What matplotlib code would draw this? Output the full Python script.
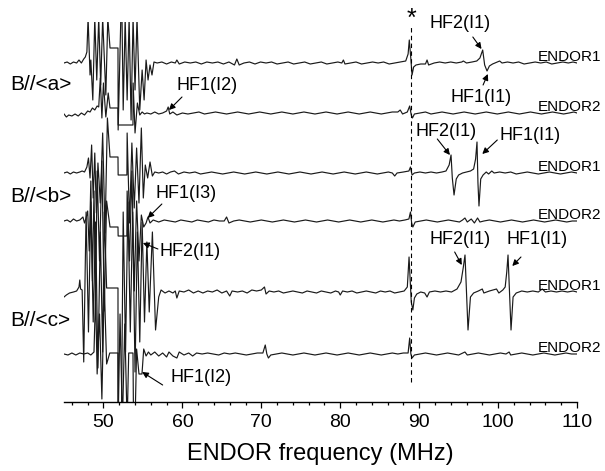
import numpy as np
from matplotlib import pyplot as plt

plt.rcParams['font.family'] = ['Liberation Sans', 'DejaVu Sans']

# ENDOR spectra, (frequency MHz, intensity a.u.)
a_endor1 = [(45.0,0),(45.4,1),(45.8,-1),(46.2,1),(46.6,0),(46.9,3),(47.2,0),(47.5,4),
    (47.7,6),(47.9,11),(48.05,45),(48.3,-12),(48.4,3),(48.65,-37),(48.9,45),(49.15,-17),(49.4,45),
    (49.65,-22),(49.9,45),(50.3,-32),(50.55,45),(50.83,15),(51.84,15),(51.86,-67),(52.2,45),(52.35,45),
    (52.5,-47),(52.75,45),(53.0,-37),(53.25,45),(53.5,-57),(53.75,45),(54.0,-27),(54.25,45),(54.6,-47),
    (54.9,-7),(55.15,-37),(55.4,3),(55.65,-17),(55.9,-2),(56.15,-12),(56.4,1),(56.8,0),
    (57.4,1),(58.0,-1),(58.6,1),(59.1,0),(59.3,3),(59.6,-1),(60.3,1),(61.0,0),(61.7,1),(62.4,-1),
    (63.1,1),(63.8,0),(64.5,1),(65.2,-1),(65.9,1),(66.6,-2),(66.9,4),(67.2,-2),(67.8,0),(68.5,1),
    (69.2,-1),(69.9,1),(70.6,0),(71.3,1),(72.0,-1),(72.7,0),(73.4,1),(74.1,-1),(74.8,0),(75.5,1),
    (76.2,-1),(76.9,0),(77.6,1),(78.3,-1),(79.0,0),(79.7,1),(80.2,0),(80.4,3),(80.6,-1),(81.3,0),
    (82.0,1),(82.7,-1),(83.4,0),(84.1,1),(84.8,0),(85.5,1),(86.2,-1),(86.9,0),(87.6,1),(88.3,2),
    (88.6,9),(88.75,23),(88.95,4),(89.1,-12),(89.3,-4),(89.6,-2),(90.2,-1),(90.8,-1),(91.0,3),
    (91.2,-2),(91.9,0),(92.6,1),(93.3,0),(94.0,1),(94.7,0),(95.4,1),(95.6,2),(96.0,0),(96.7,1),
    (97.3,2),(97.7,5),(98.05,13),(98.3,-2),(98.6,-8),(98.9,-3),(99.3,-1),(99.9,1),(100.2,2),
    (100.5,0),(101.2,1),(101.9,0),(102.6,1),(103.3,-1),(104.0,0),(104.7,1),(105.4,0),(106.1,1),
    (106.8,-1),(107.5,0),(108.2,1),(108.9,0),(109.5,1),(110.0,0)]

a_endor2 = [(45.0,-1),(45.3,-4),(45.6,-2),(46.0,-3),(46.4,-1),(46.8,-3),(47.2,0),(47.6,-2),(48.0,2),
    (48.3,1),(48.6,5),(48.9,3),(49.2,7),(49.4,6),(49.6,35),(49.8,-5),(50.0,30),(50.3,-4),(50.6,20),
    (50.83,5),(51.84,5),(51.86,-12),(53.74,-12),(53.76,30),(54.0,-20),(54.3,10),(54.6,-2),(54.9,1),
    (55.2,-1),(55.5,0),(56.0,-1),(56.5,1),(57.0,-1),(57.5,0),(58.0,2),(58.2,6),(58.4,-1),(58.8,1),
    (59.3,-2),(60.0,0),(60.7,-1),(61.4,0),(62.1,1),(62.8,-1),(63.5,0),(64.2,1),(64.9,0),(65.6,-1),
    (66.3,0),(67.0,1),(67.7,0),(68.4,-1),(69.1,0),(69.8,1),(70.5,0),(71.2,-1),(71.9,0),(72.6,1),
    (73.3,0),(74.0,-1),(74.7,0),(75.4,1),(76.1,0),(76.8,-1),(77.5,0),(78.2,1),(78.9,0),(79.6,-1),
    (80.3,0),(81.0,1),(81.7,0),(82.4,-1),(83.1,0),(83.8,1),(84.5,0),(85.2,-1),(85.9,0),(86.6,1),
    (87.3,1),(87.6,3),(87.9,-1),(88.5,1),(88.8,7),(89.0,-2),(89.15,-5),(89.4,-1),(90.1,0),(90.8,1),
    (91.5,-1),(92.2,0),(92.9,1),(93.6,0),(94.3,-1),(95.0,0),(95.7,1),(96.4,0),(97.1,-1),(97.8,0),
    (98.5,1),(99.2,0),(99.9,-1),(100.6,0),(101.3,1),(102.0,0),(102.7,-1),(103.4,0),(104.1,1),
    (104.8,0),(105.5,-1),(106.2,0),(106.9,1),(107.6,0),(108.3,-1),(109.0,0),(109.6,1),(110.0,0)]

b_endor1 = [(45.0,0),(45.4,1),(45.8,-1),(46.2,1),(46.6,0),(47.0,1),(47.3,2),(47.6,1),(47.9,6),
    (48.1,15),(48.3,-5),(48.5,28),(48.7,-25),(48.9,20),(49.1,-40),(49.3,10),(49.6,-30),(49.9,40),
    (50.2,-60),(50.5,55),(50.83,16),(51.84,16),(51.86,-2),(52.97,-2),(53.0,40),(53.3,-50),(53.6,30),
    (53.9,-35),(54.2,25),(54.5,-30),(54.8,45),(55.05,-25),(55.3,8),(55.6,-5),(55.9,11),(56.2,-3),
    (56.5,1),(57.0,0),(57.5,1),(58.0,-1),(58.5,1),(59.0,2),(59.5,-1),(60.2,1),(60.9,0),(61.6,1),
    (62.3,-1),(63.0,0),(63.7,1),(64.4,0),(65.1,-1),(65.8,0),(66.5,1),(67.2,0),(67.9,-1),(68.6,0),
    (69.3,1),(70.0,0),(70.7,-1),(71.4,0),(72.1,1),(72.8,0),(73.5,-1),(74.2,0),(74.9,1),(75.6,0),
    (76.3,-1),(77.0,0),(77.7,1),(78.4,0),(79.1,-1),(79.8,0),(80.5,1),(81.2,0),(81.9,-1),(82.6,0),
    (83.3,1),(84.0,0),(84.7,-1),(85.4,0),(86.1,1),(86.6,0),(86.9,-3),(87.2,0),(88.0,1),(88.7,2),
    (88.9,6),(89.1,-2),(89.4,0),(90.1,1),(90.8,0),(91.5,1),(92.2,0),(92.9,1),(93.4,2),(93.8,8),
    (94.04,18),(94.2,-5),(94.42,-22),(94.7,-6),(95.0,-2),(95.5,0),(96.0,1),(96.5,2),(96.9,4),
    (97.15,14),(97.33,31),(97.45,-10),(97.58,-33),(97.8,-6),(98.1,-2),(98.5,1),(98.8,-1),(99.2,2),
    (99.5,0),(100.2,1),(100.9,0),(101.6,1),(102.3,-1),(103.0,0),(103.7,1),(104.4,0),(105.1,-1),
    (105.8,0),(106.5,1),(107.2,0),(107.9,-1),(108.6,0),(109.3,1),(110.0,0)]

b_endor2 = [(45.0,0),(45.4,1),(45.8,-1),(46.2,2),(46.6,0),(47.0,1),(47.4,4),(47.6,-2),(47.8,3),
    (48.0,10),(48.2,-30),(48.4,40),(48.6,-60),(48.8,30),(49.0,-80),(49.2,50),(49.5,-40),(49.8,60),
    (50.1,-90),(50.4,20),(50.83,-6),(51.84,-6),(51.86,-15),(52.97,-15),(53.0,30),(53.3,-40),
    (53.6,50),(53.9,-70),(54.2,20),(54.5,-40),(54.8,6),(55.1,-6),(55.4,-2),(55.64,4),(55.9,-2),
    (56.3,1),(57.0,-1),(57.7,1),(58.4,0),(59.1,-1),(59.8,1),(60.5,0),(61.2,-1),(61.9,1),(62.6,0),
    (63.3,-1),(64.0,1),(64.7,0),(65.3,0),(65.6,4),(65.9,-2),(66.5,0),(67.2,1),(67.9,0),(68.6,-1),
    (69.3,0),(70.0,1),(70.7,0),(71.4,-1),(72.1,0),(72.8,1),(73.5,0),(74.2,-1),(74.9,0),(75.6,1),
    (76.3,0),(77.0,-1),(77.7,0),(78.4,1),(79.1,0),(79.8,-1),(80.5,0),(81.2,1),(81.9,0),(82.6,-1),
    (83.3,0),(84.0,1),(84.7,0),(85.4,-1),(86.1,0),(86.8,1),(87.5,0),(88.2,1),(88.7,2),(88.9,9),
    (89.05,-2),(89.2,-6),(89.5,-1),(90.2,0),(90.9,1),(91.6,0),(92.3,-1),(93.0,0),(93.7,1),(94.4,0),
    (95.1,-1),(95.5,1),(95.8,3),(96.1,-1),(96.6,2),(97.0,-2),(97.4,3),(97.7,-1),(98.2,0),(98.9,1),
    (99.6,0),(100.3,-1),(101.0,0),(101.7,1),(102.4,0),(103.1,-1),(103.8,0),(104.5,1),(105.2,0),
    (105.9,-1),(106.6,0),(107.3,1),(108.0,0),(108.7,-1),(109.4,0),(110.0,0)]

c_endor1 = [(45.0,-5),(45.3,-3),(45.7,-1),(46.2,0),(46.6,1),(46.9,5),(47.0,12),(47.1,3),(47.3,2),
    (47.5,-70),(47.8,80),(48.1,-40),(48.4,90),(48.7,-30),(49.0,70),(49.3,-76),(49.6,60),(49.9,-60),
    (50.1,80),(50.4,4),(51.84,4),(51.86,-200),(52.3,-110),(52.5,80),(52.8,-60),(53.1,90),(53.4,-40),
    (53.7,80),(54.0,-80),(54.3,60),(54.6,-50),(54.9,70),(55.2,-30),(55.5,50),(55.8,-20),(56.2,60),
    (56.6,-38),(57.0,-5),(57.3,2),(57.8,-1),(58.3,1),(58.8,-1),(59.1,1),(59.3,-6),(59.6,1),(60.2,0),
    (60.8,2),(61.4,-1),(62.0,1),(62.6,-1),(63.2,1),(63.8,0),(64.4,2),(65.0,-1),(65.6,1),(66.0,-4),
    (66.3,1),(67.0,0),(67.6,1),(68.2,-1),(68.8,2),(69.4,1),(70.0,2),(70.4,5),(70.6,-2),(71.0,1),
    (71.6,0),(72.2,1),(72.8,-1),(73.4,0),(74.0,1),(74.6,0),(75.2,-1),(75.8,1),(76.4,0),(77.0,-1),
    (77.6,1),(78.2,0),(78.8,-1),(79.4,1),(79.8,0),(80.0,-3),(80.3,1),(80.9,0),(81.5,1),(82.1,-1),
    (82.7,0),(83.3,1),(83.9,0),(84.5,-1),(85.1,1),(85.7,0),(86.3,1),(86.9,-1),(87.5,0),(88.1,1),
    (88.5,5),(88.72,35),(88.9,5),(89.0,-10),(89.2,-18),(89.4,-6),(89.7,-2),(90.2,0),(90.7,-1),
    (91.0,-5),(91.3,0),(92.0,1),(92.7,0),(93.4,1),(94.1,0),(94.8,3),(95.3,10),(95.6,25),(95.81,37),
    (96.0,0),(96.19,-38),(96.5,-5),(96.9,-1),(97.5,1),(98.0,3),(98.2,-1),(98.9,1),(99.8,3),
    (100.1,-1),(100.6,2),(100.9,5),(101.1,20),(101.26,37),(101.45,0),(101.64,-38),(101.9,-5),
    (102.3,-1),(103.0,1),(103.7,0),(104.4,1),(105.1,0),(105.6,3),(106.0,0),(106.7,1),(107.4,0),
    (108.1,1),(108.8,0),(109.5,1),(110.0,0)]

c_endor2 = [(45.0,0),(45.5,-1),(46.0,1),(46.5,-1),(47.0,1),(47.5,0),(48.0,1),(48.4,-1),(48.8,2),
    (49.0,60),(49.2,-20),(49.5,40),(49.8,-45),(50.1,70),(50.4,-10),(50.8,1),(51.84,1),(51.86,-70),
    (52.1,40),(52.4,-70),(52.7,30),(53.0,-70),(53.2,1),(53.74,1),(53.8,-60),(54.0,-70),(54.2,5),
    (54.5,-20),(54.88,-20),(55.1,5),(55.4,-2),(55.7,2),(56.0,-1),(56.5,2),(57.0,-2),(57.5,1),
    (58.0,-3),(58.3,2),(58.8,-2),(59.3,-4),(59.6,2),(60.2,-1),(60.8,1),(61.3,-2),(61.8,1),(62.5,0),
    (63.2,1),(63.9,0),(64.6,-1),(65.3,1),(66.0,0),(66.7,1),(67.4,0),(68.1,-1),(68.8,0),(69.5,1),
    (70.2,1),(70.5,9),(70.7,0),(70.9,-4),(71.2,-1),(71.9,0),(72.6,1),(73.3,0),(74.0,-1),(74.7,0),
    (75.4,1),(76.1,0),(76.8,-1),(77.5,0),(78.2,1),(78.9,0),(79.6,-1),(80.3,0),(81.0,1),(81.7,0),
    (82.4,-1),(83.1,0),(83.8,1),(84.5,0),(85.2,-1),(85.9,0),(86.6,1),(87.3,0),(88.0,1),(88.6,1),
    (88.8,16),(88.95,0),(89.1,-4),(89.4,-1),(90.1,0),(90.8,1),(91.5,0),(92.2,-1),(92.9,0),(93.6,1),
    (94.3,0),(95.0,-1),(95.8,2),(96.1,-1),(96.8,0),(97.5,1),(98.2,0),(98.9,-1),(99.6,0),(100.3,1),
    (101.0,0),(101.4,2),(101.6,-1),(102.3,0),(103.0,1),(103.7,0),(104.4,-1),(105.1,0),(105.8,1),
    (106.5,0),(107.2,-1),(107.9,0),(108.6,1),(109.3,0),(110.0,0)]

spectra = [a_endor1, a_endor2, b_endor1, b_endor2, c_endor1, c_endor2]
spectrum_names = ['ENDOR1', 'ENDOR2', 'ENDOR1', 'ENDOR2', 'ENDOR1', 'ENDOR2']
offsets = [339, 289, 229, 181, 110, 48]
orientations = ['B//<a>', 'B//<b>', 'B//<c>']
orientation_y = [317, 205, 82]

# (label, text position, arrow tail, arrow head)
annotations = [
    ('HF2(I1)', (95.2, 379), (96.8, 365), (97.9, 353)),
    ('HF1(I1)', (97.9, 305), (98.1, 317), (98.7, 328)),
    ('HF1(I2)', (63.1, 317), (59.95, 305), (58.3, 292)),
    ('HF2(I1)', (93.4, 271), (92.3, 263), (93.9, 247)),
    ('HF1(I1)', (104.0, 266), (99.9, 262), (98.0, 248)),
    ('HF1(I3)', (60.5, 209), (57.4, 198), (55.6, 184)),
    ('HF2(I1)', (61.0, 150), (56.9, 153), (55.0, 159)),
    ('HF1(I2)', (62.4, 25), (57.5, 17), (54.9, 30)),
    ('HF2(I1)', (95.2, 162), (94.5, 150), (95.4, 137)),
    ('HF1(I1)', (104.9, 162), (102.9, 145), (101.8, 136)),
]

fig = plt.figure(figsize=(6.05, 4.71), dpi=100)
ax = fig.add_axes([64/605, 69/471, 513/605, 380/471])

for spec, off, name in zip(spectra, offsets, spectrum_names):
    f = np.array([p[0] for p in spec])
    y = np.array([p[1] for p in spec]) + off
    ax.plot(f, y, color='#1a1a1a', lw=0.85)
    ax.text(105.0, off + 2, name, fontsize=11, ha='left', va='baseline')

for lab, yy in zip(orientations, orientation_y):
    ax.text(38.2, yy, lab, fontsize=15, ha='left', va='center')

for lab, tpos, tail, head in annotations:
    ax.text(tpos[0], tpos[1], lab, fontsize=13, ha='center', va='center')
    ax.annotate('', xy=head, xytext=tail,
                arrowprops=dict(arrowstyle='-|>', color='k', lw=0.8, mutation_scale=9,
                                shrinkA=0, shrinkB=0))

ax.plot([89, 89], [20, 376], color='k', ls=(0, (4, 3)), lw=0.8, clip_on=False)
ax.text(89, 383, '*', fontsize=18, ha='center', va='center')

ax.set_xlim(45, 110)
ax.set_ylim(0, 380)
for s in ['left', 'right', 'top']:
    ax.spines[s].set_visible(False)
ax.spines['bottom'].set_linewidth(1.0)
ax.set_yticks([])
ax.set_xticks(np.arange(50, 111, 10))
ax.set_xticks(np.arange(46, 111, 2), minor=True)
ax.tick_params(axis='x', which='major', length=4.5, width=0.9, labelsize=14, pad=4)
ax.tick_params(axis='x', which='minor', length=2.4, width=0.9)
ax.set_xlabel('ENDOR frequency (MHz)', fontsize=17, labelpad=9)

fig.savefig('out.png', dpi=100)
